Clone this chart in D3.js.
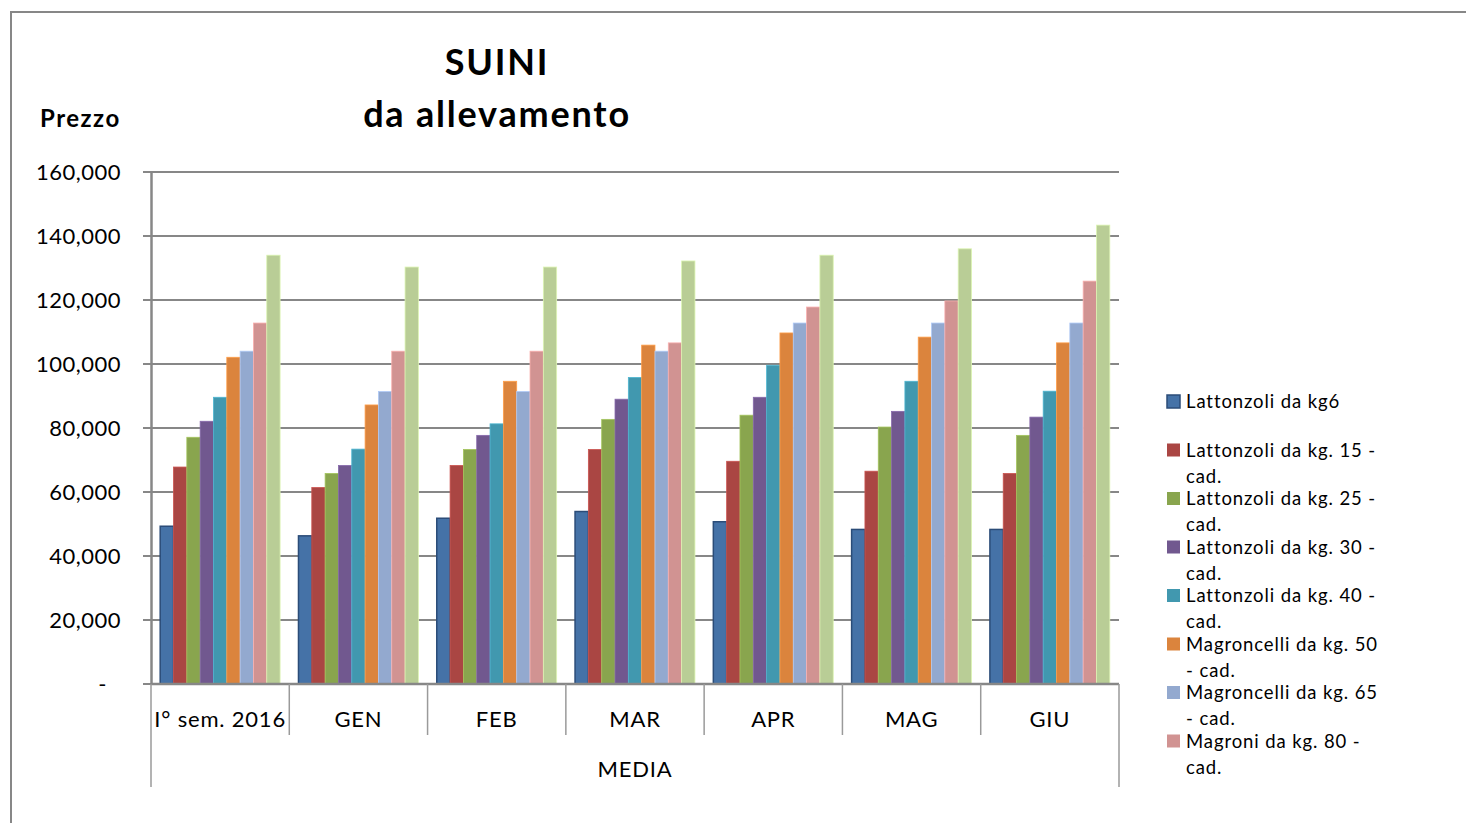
<!DOCTYPE html>
<html>
<head>
<meta charset="utf-8">
<script src="https://cdn.jsdelivr.net/npm/d3@7"></script>
<style>
  body { margin: 0; background: #fff; }
  svg text { font-family: Lato, "Noto Sans", sans-serif; fill: #000; }
</style>
</head>
<body>
<div id="wrapper"></div>
<script>
// data
const categories = ["I° sem. 2016", "GEN", "FEB", "MAR", "APR", "MAG", "GIU"]
const seriesNames = [
  "Lattonzoli da kg6",
  "Lattonzoli da kg. 15 - cad.",
  "Lattonzoli da kg. 25 - cad.",
  "Lattonzoli da kg. 30 - cad.",
  "Lattonzoli da kg. 40 - cad.",
  "Magroncelli da kg. 50 - cad.",
  "Magroncelli  da kg. 65 - cad.",
  "Magroni da kg. 80 - cad.",
  "Magroni da kg. 100 - cad.",
]
// legend labels as they wrap in the original
const legendLines = [
  ["Lattonzoli da kg6"],
  ["Lattonzoli da kg. 15 -", "cad."],
  ["Lattonzoli da kg. 25 -", "cad."],
  ["Lattonzoli da kg. 30 -", "cad."],
  ["Lattonzoli da kg. 40 -", "cad."],
  ["Magroncelli da kg. 50", "- cad."],
  ["Magroncelli  da kg. 65", "- cad."],
  ["Magroni da kg. 80 -", "cad."],
]
const kg6   = [49300, 46300, 51800, 53900, 50700, 48300, 48300]
const kg15  = [67800, 61400, 68300, 73300, 69600, 66500, 65800]
const kg25  = [77100, 65800, 73300, 82700, 84000, 80300, 77700]
const kg30  = [82100, 68300, 77700, 89000, 89600, 85200, 83400]
const kg40  = [89600, 73400, 81300, 95800, 99600, 94600, 91500]
const kg50  = [102100, 87200, 94600, 105900, 109700, 108400, 106600]
const kg65  = [104000, 91400, 91400, 104000, 112800, 112800, 112800]
const kg80  = [112800, 104000, 104000, 106600, 117800, 119700, 125900]
const kg100 = [134000, 130300, 130300, 132200, 134000, 136000, 143400]
const seriesValues = [kg6, kg15, kg25, kg30, kg40, kg50, kg65, kg80, kg100]
const yTicks = [0, 20000, 40000, 60000, 80000, 100000, 120000, 140000, 160000]

const colors = ["#4572A7", "#AA4643", "#89A54E", "#71588F", "#4198AF",
                "#DB843D", "#93A9CF", "#D19392", "#B9CD96"]

const dimensions = {
  width: 1466,
  height: 823,
  margin: { top: 172, left: 151 },
  boundedWidth: 968,
  boundedHeight: 512,
}

const svg = d3.select("#wrapper").append("svg")
    .attr("width", dimensions.width)
    .attr("height", dimensions.height)

// outer chart frame (runs off the right and bottom)
svg.append("path")
    .attr("d", "M11,830 L11,12 L1470,12")
    .attr("fill", "none")
    .attr("stroke", "#878787")
    .attr("stroke-width", 2)

const bounds = svg.append("g")
    .attr("transform", `translate(${dimensions.margin.left},${dimensions.margin.top})`)

const x0 = d3.scaleBand()
    .domain(categories)
    .range([0, dimensions.boundedWidth])
    .padding(0)

const x1 = d3.scaleBand()
    .domain(d3.range(seriesNames.length))
    .range([0, x0.bandwidth()])
    .paddingInner(0)
    .paddingOuter(0.69)

const yScale = d3.scaleLinear()
    .domain([0, 160000])
    .range([dimensions.boundedHeight, 0])

// gridlines
bounds.append("g")
  .selectAll("line")
  .data(yTicks)
  .join("line")
    .attr("x1", -8)
    .attr("x2", dimensions.boundedWidth)
    .attr("y1", d => yScale(d))
    .attr("y2", d => yScale(d))
    .attr("stroke", "#878787")
    .attr("stroke-width", 2)

// bars
const groups = bounds.append("g")
  .selectAll("g")
  .data(categories)
  .join("g")
    .attr("transform", d => `translate(${x0(d)},0)`)

groups.selectAll("rect")
  .data((c, ci) => seriesValues.map((vals, si) => ({ si, v: vals[ci] })))
  .join("rect")
    .attr("x", d => x1(d.si))
    .attr("width", x1.bandwidth())
    .attr("y", d => yScale(d.v))
    .attr("height", d => yScale(0) - yScale(d.v))
    .attr("fill", d => colors[d.si])
    .attr("stroke", d => d.si === 0 ? "#2B4C78" : d3.color(colors[d.si]).brighter(0.5))
    .attr("stroke-width", d => d.si === 0 ? 1.5 : 0.8)

// y axis
const yAxisGenerator = d3.axisLeft(yScale)
    .tickValues(yTicks)
    .tickSize(0)
    .tickPadding(30)
    .tickFormat(d => d === 0 ? "-" : d3.format(",")(d))

const yAxis = bounds.append("g")
    .call(yAxisGenerator)
yAxis.select(".domain")
    .attr("stroke", "#878787")
    .attr("stroke-width", 2.5)
yAxis.selectAll("text")
    .style("font-size", "22px")
    .style("letter-spacing", "0.5px")
    .attr("dy", "0.35em")
yAxis.selectAll("text").filter(d => d === 0).attr("dx", "-14")

// x axis
const xAxis = bounds.append("g")
    .attr("transform", `translate(0,${dimensions.boundedHeight})`)
xAxis.append("line")
    .attr("x1", 0)
    .attr("x2", dimensions.boundedWidth)
    .attr("stroke", "#878787")
    .attr("stroke-width", 2.5)

const seps = categories.map(c => x0(c)).concat([dimensions.boundedWidth])
xAxis.selectAll(".sep")
  .data(seps)
  .join("line")
    .attr("class", "sep")
    .attr("x1", d => d)
    .attr("x2", d => d)
    .attr("y1", 0)
    .attr("y2", (d, i) => (i === 0 || i === seps.length - 1) ? 103 : 51)
    .attr("stroke", "#9a9a9a")
    .attr("stroke-width", 1.5)

xAxis.selectAll(".cat")
  .data(categories)
  .join("text")
    .attr("class", "cat")
    .attr("x", d => x0(d) + x0.bandwidth() / 2)
    .attr("y", 35)
    .attr("dy", "0.35em")
    .attr("text-anchor", "middle")
    .style("font-size", "22px")
    .style("letter-spacing", "0.8px")
    .text(d => d)

xAxis.append("text")
    .attr("x", dimensions.boundedWidth / 2)
    .attr("y", 85)
    .attr("dy", "0.35em")
    .attr("text-anchor", "middle")
    .style("font-size", "22px")
    .style("letter-spacing", "0.8px")
    .text("MEDIA")

// titles
svg.append("text")
    .attr("x", 497)
    .attr("y", 75)
    .attr("text-anchor", "middle")
    .style("font-size", "36px")
    .style("font-weight", "bold")
    .style("letter-spacing", "1.8px")
    .text("SUINI")
svg.append("text")
    .attr("x", 497)
    .attr("y", 127)
    .attr("text-anchor", "middle")
    .style("font-size", "36px")
    .style("font-weight", "bold")
    .style("letter-spacing", "1.8px")
    .text("da allevamento")
svg.append("text")
    .attr("x", 40)
    .attr("y", 127)
    .style("font-size", "24px")
    .style("font-weight", "bold")
    .style("letter-spacing", "1.5px")
    .text("Prezzo")

// legend (bottom entry is cut off in the original)
const legend = svg.append("g")
    .attr("transform", "translate(1167,402)")

const items = legend.selectAll("g")
  .data(legendLines)
  .join("g")
    .attr("transform", (d, i) => `translate(0,${i * 48.5})`)

items.append("rect")
    .attr("x", 0)
    .attr("y", -7)
    .attr("width", 13)
    .attr("height", 13)
    .attr("fill", (d, i) => colors[i])
    .attr("stroke", (d, i) => i === 0 ? "#2B4C78" : "none")
    .attr("stroke-width", 1.5)

items.selectAll("text")
  .data(d => d)
  .join("text")
    .attr("x", 19)
    .attr("y", (d, i) => i * 26)
    .attr("dy", "0.35em")
    .style("font-size", "18.5px")
    .style("letter-spacing", "0.9px")
    .text(d => d)
</script>
</body>
</html>
